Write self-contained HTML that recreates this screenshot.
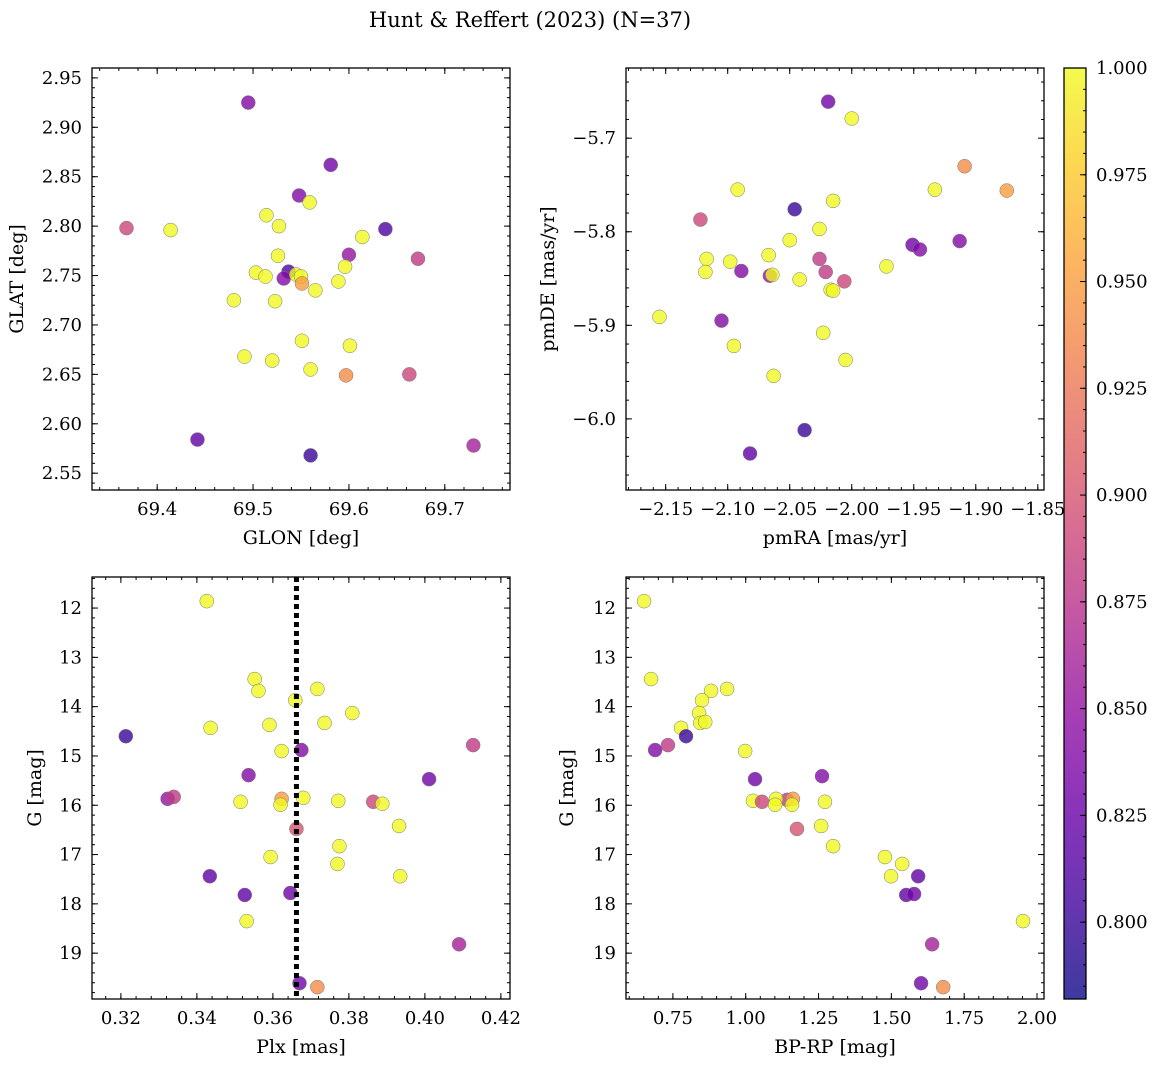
<!DOCTYPE html>
<html><head><meta charset="utf-8">
<style>
html,body{margin:0;padding:0;background:#fff;}
svg{display:block;font-family:"DejaVu Serif","Liberation Serif",serif;}
</style></head>
<body>
<svg id="fig" width="1161" height="1067" viewBox="0 0 1161 1067">
<text x="530" y="27" font-size="21" text-anchor="middle">Hunt &amp; Reffert (2023) (N=37)</text>
</svg>
<script>
// Panel 1: GLON vs GLAT
const p1X=[69.495,69.581,69.548,69.559,69.368,69.414,69.638,69.514,69.527,69.614,69.600,69.672,69.526,69.503,69.513,69.537,69.532,69.545,69.550,69.551,69.565,69.596,69.589,69.480,69.523,69.551,69.601,69.491,69.520,69.560,69.597,69.663,69.442,69.730,69.560];
const p1Y=[2.925,2.862,2.831,2.824,2.798,2.796,2.797,2.811,2.800,2.789,2.771,2.767,2.770,2.753,2.749,2.754,2.747,2.751,2.749,2.742,2.735,2.759,2.744,2.725,2.724,2.684,2.679,2.668,2.664,2.655,2.649,2.650,2.584,2.578,2.568];
const p1P=[0.84,0.83,0.84,1,0.89,1,0.81,1,1,1,0.85,0.88,1,1,1,0.81,0.84,1,1,0.95,1,1,1,1,1,1,1,1,1,1,0.94,0.89,0.82,0.86,0.80];
// Panel 2: pmRA vs pmDE
const p2X=[-2.019,-2.000,-1.909,-1.875,-2.092,-1.933,-2.015,-2.046,-2.122,-2.026,-2.050,-1.913,-1.951,-1.945,-2.117,-2.089,-2.026,-2.067,-2.118,-2.098,-1.972,-2.021,-2.066,-2.064,-2.042,-2.006,-2.017,-2.015,-2.155,-2.105,-2.023,-2.095,-2.005,-2.063,-2.038,-2.082];
const p2Y=[-5.661,-5.679,-5.730,-5.756,-5.755,-5.755,-5.767,-5.776,-5.787,-5.797,-5.809,-5.810,-5.814,-5.819,-5.829,-5.842,-5.829,-5.825,-5.843,-5.832,-5.837,-5.843,-5.847,-5.846,-5.851,-5.853,-5.862,-5.863,-5.891,-5.895,-5.908,-5.922,-5.937,-5.954,-6.012,-6.037];
const p2P=[0.83,1,0.94,0.95,1,1,1,0.80,0.89,1,1,0.84,0.83,0.84,1,0.84,0.88,1,1,1,1,0.88,0.85,1,1,0.89,1,1,1,0.84,1,1,1,1,0.80,0.82];
// Panel 3: Plx vs G
const p3X=[0.3426,0.3552,0.3562,0.3717,0.3659,0.3736,0.3591,0.3809,0.3436,0.3213,0.4127,0.3623,0.3675,0.3536,0.4011,0.3323,0.3339,0.3515,0.3623,0.3620,0.3680,0.3772,0.3864,0.3888,0.3932,0.3662,0.3775,0.3594,0.3770,0.3434,0.3935,0.3526,0.3646,0.3531,0.4090,0.3670,0.3717];
const p3Y=[11.86,13.44,13.68,13.64,13.87,14.33,14.37,14.13,14.43,14.60,14.78,14.90,14.88,15.39,15.47,15.87,15.83,15.93,15.87,15.99,15.85,15.91,15.93,15.97,16.42,16.48,16.83,17.05,17.19,17.44,17.44,17.82,17.78,18.35,18.82,19.61,19.69];
const p3P=[1,1,1,1,1,1,1,1,1,0.80,0.88,1,0.84,0.84,0.83,0.85,0.88,1,0.95,1,1,1,0.89,1,1,0.90,1,1,1,0.82,1,0.82,0.83,1,0.86,0.83,0.94];
const plxMean=[0.3662];
// Panel 4: BP-RP vs G
const p4X=[0.651,0.675,0.936,0.881,0.850,0.840,0.844,0.861,0.778,0.795,0.733,0.689,0.998,1.032,1.262,1.025,1.056,1.142,1.104,1.162,1.101,1.159,1.272,1.259,1.176,1.300,1.478,1.537,1.499,1.592,1.551,1.578,1.952,1.640,1.602,1.678];
const p4Y=[11.86,13.44,13.64,13.68,13.87,14.13,14.33,14.31,14.43,14.60,14.78,14.88,14.90,15.47,15.41,15.91,15.93,15.89,15.87,15.87,15.99,15.99,15.93,16.42,16.48,16.83,17.05,17.19,17.44,17.44,17.82,17.80,18.35,18.82,19.61,19.69];
const p4P=[1,1,1,1,1,1,1,1,1,0.80,0.88,0.84,1,0.83,0.84,1,0.89,0.88,1,0.95,1,1,1,1,0.90,1,1,1,1,0.82,0.82,0.83,1,0.86,0.83,0.94];
// Colorbar
const cbTicks=[0.800,0.825,0.850,0.875,0.900,0.925,0.950,0.975,1.000];
const xt1=[69.4,69.5,69.6,69.7], yt1=[2.55,2.60,2.65,2.70,2.75,2.80,2.85,2.90,2.95];
const xt2=[-2.15,-2.10,-2.05,-2.00,-1.95,-1.90,-1.85], yt2=[-6.0,-5.9,-5.8,-5.7];
const xt3=[0.32,0.34,0.36,0.38,0.40,0.42], ytG=[12,13,14,15,16,17,18,19];
const xt4=[0.75,1.00,1.25,1.50,1.75,2.00];

const NS='http://www.w3.org/2000/svg';
const svg=document.getElementById('fig');
function mk(tag,attrs,parent){const e=document.createElementNS(NS,tag);for(const k in attrs)e.setAttribute(k,attrs[k]);(parent||svg).appendChild(e);return e;}
const VMIN=0.782,VMAX=1.0;
const stops=['#0d0887','#41049d','#6a00a8','#8f0da4','#b12a90','#cc4778','#e16462','#f2844b','#fca636','#fcce25','#f0f921'];
function hx(h){return [1,3,5].map(i=>parseInt(h.substr(i,2),16));}
function plasma(t){t=Math.max(0,Math.min(1,t));const f=t*10,i=Math.min(9,Math.floor(f)),r=f-i;const a=hx(stops[i]),b=hx(stops[i+1]);return 'rgb('+a.map((v,k)=>Math.round(v+(b[k]-v)*r)).join(',')+')';}
function col(p){return plasma((p-VMIN)/(VMAX-VMIN));}
function fmt(v,d){return v.toFixed(d).replace('-','\u2212');}
const TF=18, LF=19;

function panel(cfg){
  const {name,L,T,R,B,xd,yd,yInv,xt,yt,xd2,yd2,xminor,yminor,xlab,ylab,xs,ys,ps}=cfg;
  const g=mk('g',{});
  const sx=v=>L+(v-xd[0])/(xd[1]-xd[0])*(R-L);
  const sy=v=>yInv? T+(v-yd[0])/(yd[1]-yd[0])*(B-T) : B-(v-yd[0])/(yd[1]-yd[0])*(B-T);
  cfg.sx=sx;cfg.sy=sy;
  const tk=mk('g',{stroke:'#000','stroke-width':1,},g);
  for(let v=Math.ceil(xd[0]/xminor)*xminor;v<=xd[1];v+=xminor){const x=sx(v);mk('line',{x1:x,x2:x,y1:B,y2:B-3},tk);mk('line',{x1:x,x2:x,y1:T,y2:T+3},tk);}
  for(let v=Math.ceil(yd[0]/yminor)*yminor;v<=yd[1];v+=yminor){const y=sy(v);mk('line',{x1:L,x2:L+3,y1:y,y2:y},tk);mk('line',{x1:R,x2:R-3,y1:y,y2:y},tk);}
  xt.forEach(v=>{const x=sx(v);mk('line',{x1:x,x2:x,y1:B,y2:B-6},tk);mk('line',{x1:x,x2:x,y1:T,y2:T+6},tk);
    const t=mk('text',{x:x,y:B+25,'font-size':TF,'text-anchor':'middle'},g);t.textContent=fmt(v,xd2);
    
    });
  yt.forEach(v=>{const y=sy(v);mk('line',{x1:L,x2:L+6,y1:y,y2:y},tk);mk('line',{x1:R,x2:R-6,y1:y,y2:y},tk);
    const t=mk('text',{x:L-10,y:y+6,'font-size':TF,'text-anchor':'end'},g);t.textContent=fmt(v,yd2);
    
    });
  const xl=mk('text',{x:(L+R)/2,y:B+54,'font-size':LF,'text-anchor':'middle',},g);xl.textContent=xlab;
  const ylx=L-(cfg.ylOff||65);
  const yl=mk('text',{x:ylx,y:(T+B)/2,'font-size':LF,'text-anchor':'middle',transform:'rotate(-90 '+ylx+' '+((T+B)/2)+')',},g);yl.textContent=ylab;
  const pg=mk('g',{},g);
  if(cfg.extra)cfg.extra(cfg,g);
  xs.forEach((v,i)=>{const c=mk('circle',{cx:sx(v),cy:sy(ys[i]),r:7,fill:col(ps[i]),'fill-opacity':0.8,stroke:'#777','stroke-width':0.5},pg);
    
    });
  mk('rect',{x:L,y:T,width:R-L,height:B-T,fill:'none',stroke:'#000','stroke-width':1.3,},g);
}
panel({name:'glon-glat-panel',L:92,T:68,R:510,B:490,xd:[69.332,69.768],yd:[2.533,2.960],xt:xt1,yt:yt1,xd2:1,yd2:2,xminor:0.02,yminor:0.01,xlab:'GLON [deg]',ylab:'GLAT [deg]',xs:p1X,ys:p1Y,ps:p1P,ylOff:69});
panel({name:'pm-panel',L:626,T:68,R:1044,B:490,xd:[-2.182,-1.845],yd:[-6.076,-5.625],xt:xt2,yt:yt2,xd2:2,yd2:1,xminor:0.01,yminor:0.02,xlab:'pmRA [mas/yr]',ylab:'pmDE [mas/yr]',xs:p2X,ys:p2Y,ps:p2P,ylOff:72});
panel({name:'plx-g-panel',L:92,T:577,R:510,B:999,xd:[0.3124,0.4224],yd:[11.37,19.93],yInv:true,xt:xt3,yt:ytG,xd2:2,yd2:0,xminor:0.004,yminor:0.2,xlab:'Plx [mas]',ylab:'G [mag]',xs:p3X,ys:p3Y,ps:p3P,ylOff:51,
  extra:(c,g)=>{const x=c.sx(plxMean[0]);mk('line',{x1:x,x2:x,y1:577,y2:999,stroke:'#000','stroke-width':5,'stroke-dasharray':'5,4',},g);}});
panel({name:'cmd-panel',L:626,T:577,R:1044,B:999,xd:[0.589,2.024],yd:[11.37,19.93],yInv:true,xt:xt4,yt:ytG,xd2:2,yd2:0,xminor:0.05,yminor:0.2,xlab:'BP-RP [mag]',ylab:'G [mag]',xs:p4X,ys:p4Y,ps:p4P,ylOff:53});

const cb=mk('g',{});
const defs=mk('defs',{},cb);
const lg=mk('linearGradient',{id:'cbg',x1:0,y1:1,x2:0,y2:0},defs);
for(let i=0;i<=20;i++){mk('stop',{offset:i/20,'stop-color':plasma(i/20),'stop-opacity':0.8},lg);}
const CL=1064,CR=1086,CT=68,CB=999;
mk('rect',{x:CL,y:CT,width:CR-CL,height:CB-CT,fill:'url(#cbg)',stroke:'#000','stroke-width':1.3,},cb);
const cy=v=>CB-(v-VMIN)/(VMAX-VMIN)*(CB-CT);
for(let v=0.785;v<=1.0001;v+=0.005){const y=cy(v);mk('line',{x1:CR,x2:CR-3,y1:y,y2:y,stroke:'#000'},cb);}
cbTicks.forEach(v=>{const y=cy(v);mk('line',{x1:CR,x2:CR-6,y1:y,y2:y,stroke:'#000'},cb);
  const t=mk('text',{x:CR+10,y:y+6,'font-size':TF},cb);t.textContent=v.toFixed(3);
  
  });
</script>
</body></html>
